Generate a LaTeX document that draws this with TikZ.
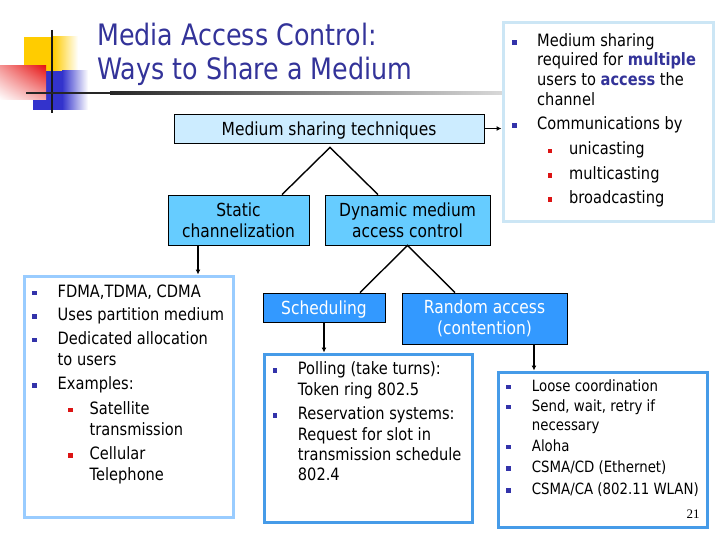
\documentclass[tikz,border=0pt]{standalone}
\usepackage{fontspec}
\setmainfont[FakeStretch=0.86]{DejaVu Sans}
\newfontfamily\numfont{Liberation Serif}
\usetikzlibrary{arrows.meta,calc,shadings}
\definecolor{titleblue}{RGB}{51,51,153}
\definecolor{yellowc}{RGB}{255,204,0}
\definecolor{bluec}{RGB}{51,51,204}
\definecolor{redc}{RGB}{230,20,20}
\definecolor{palefill}{RGB}{204,236,255}
\definecolor{midfill}{RGB}{102,204,255}
\definecolor{darkfill}{RGB}{51,153,255}
\definecolor{lightedge}{RGB}{153,204,255}
\definecolor{paleedge}{RGB}{204,230,245}
\definecolor{listedge}{RGB}{70,155,232}
\definecolor{bulblue}{RGB}{51,51,170}
\definecolor{bulred}{RGB}{220,20,20}
\tikzset{
  titletxt/.style={anchor=base west, inner sep=0pt, text=titleblue, font=\fontsize{29.5}{35}\selectfont},
  txt/.style={anchor=base west, inner sep=0pt, font=\fontsize{17}{20}\selectfont},
  smalltxt/.style={anchor=base west, inner sep=0pt, font=\fontsize{15.5}{18}\selectfont},
  bulb/.style={fill=#1, inner sep=0pt, minimum size=4.6pt, draw=none},
  catbox/.style={draw=black, line width=0.8pt, inner sep=0pt, align=center, font=\fontsize{18}{20.6}\selectfont},
  listbox/.style={draw=#1, line width=3pt, fill=white, inner sep=0pt},
  conn/.style={line width=1.4pt},
  arr/.style={line width=1.4pt, -{Latex[length=5pt,width=5pt]}},
}
\newcommand\myln[4]{\node[txt] (#1) at (#2,#3) {#4};}
\newcommand\mysm[4]{\node[smalltxt] (#1) at (#2,#3) {#4};}
\newcommand\mybul[4]{\node[bulb=#4] (#1) at (#2,#3) {};}
\begin{document}
\begin{tikzpicture}[x=1pt,y=-1pt]
\useasboundingbox (0,0) rectangle (720,540);
\fill[white] (0,0) rectangle (720,540);
% decoration
\fill[yellowc] (24,37) rectangle (53,80);
\shade[left color=yellowc, right color=white] (53,37) rectangle (78,80);
\fill[bluec] (33,71) rectangle (62,110);
\shade[left color=bluec, right color=white] (62,71) rectangle (88,110);
\shade[upper left=redc!45!white, upper right=redc, lower left=white, lower right=redc!35!white] (0,66) rectangle (46,100);
\draw[line width=2.2pt, black!90] (52,30) -- (52,113);
\fill[black!85] (26,91.8) rectangle (110,94.4);
\shade[left color=black!85, right color=black!15] (110,91.8) rectangle (503,94.4);
% title
\node[titletxt] (t1) at (97,45.7) {Media Access Control:};
\node[titletxt] (t2) at (97,80) {Ways to Share a Medium};
% boxes
\node[catbox, fill=palefill, minimum width=310pt, minimum height=29pt, text height=14pt, text depth=0pt] (mst) at (329,128.5) {Medium sharing techniques};
\node[catbox, fill=midfill, minimum width=141pt, minimum height=50pt] (st) at (238.5,220) {Static\\channelization};
\node[catbox, fill=midfill, minimum width=165pt, minimum height=50pt] (dyn) at (407.5,220) {Dynamic medium\\access control};
\node[catbox, fill=darkfill, text=white, minimum width=122pt, minimum height=29pt, text height=14pt, text depth=0pt] (sch) at (324,307.5) {Scheduling};
\node[catbox, fill=darkfill, text=white, minimum width=165pt, minimum height=51pt] (rnd) at (484.5,318.5) {Random access\\(contention)};
% list boxes
\node[listbox=paleedge, minimum width=210pt, minimum height=199pt] (info) at (608,122.5) {};
\node[listbox=lightedge, minimum width=209pt, minimum height=241pt] (sl) at (128.5,396.5) {};
\node[listbox=listedge, minimum width=208pt, minimum height=168pt] (schl) at (368,438) {};
\node[listbox=listedge, minimum width=209pt, minimum height=155pt] (rl) at (602.5,449.5) {};
% connectors
\coordinate (apx) at ($(mst.south)+(1,4)$);
\draw[conn] ($(st.north)+(43.5,0)$) -- (apx) -- ($(dyn.north)+(-29.5,0)$);
\draw[conn] ($(sch.north)+(36,0)$) -- (dyn.south) -- ($(rnd.north)+(-29.5,0)$);
\coordinate (sa) at ($(st.south)+(-40.5,0)$);
\draw[arr] (sa) -- (sa |- sl.north);
\draw[arr] (sch.south) -- (sch.south |- schl.north);
\coordinate (ra) at ($(rnd.south)+(49.5,0)$);
\draw[arr] (ra) -- (ra |- rl.north);
\draw[arr] (mst.east) -- (mst.east -| info.west);
% info box text
\mybul{ib1}{514.5}{42.5}{bulblue}
\myln{i1}{537}{46.5}{Medium sharing}
\myln{i2}{537}{66}{required for \textbf{\color{titleblue}multiple}}
\myln{i3}{537}{86}{users to \textbf{\color{titleblue}access} the}
\myln{i4}{537}{106}{channel}
\mybul{ib2}{514.5}{125.5}{bulblue}
\myln{i5}{537}{129.5}{Communications by}
\mybul{ib3}{550}{151}{bulred}
\myln{i6}{569}{155}{unicasting}
\mybul{ib4}{550}{175.5}{bulred}
\myln{i7}{569}{179.5}{multicasting}
\mybul{ib5}{550}{199.5}{bulred}
\myln{i8}{569}{203.5}{broadcasting}
% static list
\mybul{sb1}{34.7}{293}{bulblue}
\myln{s1}{57.5}{297}{FDMA,TDMA, CDMA}
\mybul{sb2}{34.7}{316.7}{bulblue}
\myln{s2}{57.5}{320.7}{Uses partition medium}
\mybul{sb3}{34.7}{340}{bulblue}
\myln{s3}{57.5}{344}{Dedicated allocation}
\myln{s4}{57.5}{365}{to users}
\mybul{sb4}{34.7}{385.3}{bulblue}
\myln{s5}{57.5}{389.3}{Examples:}
\mybul{sb5}{70.3}{410}{bulred}
\myln{s6}{89.5}{414}{Satellite}
\myln{s7}{89.5}{435}{transmission}
\mybul{sb6}{70.3}{455.3}{bulred}
\myln{s8}{89.5}{459.3}{Cellular}
\myln{s9}{89.5}{480}{Telephone}
% scheduling list
\mybul{cb1}{275}{370.3}{bulblue}
\myln{c1}{297.7}{374.3}{Polling (take turns):}
\myln{c2}{297.7}{395}{Token ring 802.5}
\mybul{cb2}{275}{415.3}{bulblue}
\myln{c3}{297.7}{419.3}{Reservation systems:}
\myln{c4}{297.7}{440}{Request for slot in}
\myln{c5}{297.7}{460}{transmission schedule}
\myln{c6}{297.7}{480}{802.4}
% random list
\mybul{rb1}{508.7}{387}{bulblue}
\mysm{r1}{531.7}{391}{Loose coordination}
\mybul{rb2}{508.7}{407}{bulblue}
\mysm{r2}{531.7}{411}{Send, wait, retry if}
\mysm{r3}{531.7}{430}{necessary}
\mybul{rb3}{508.7}{447}{bulblue}
\mysm{r4}{531.7}{451}{Aloha}
\mybul{rb4}{508.7}{468.7}{bulblue}
\mysm{r5}{531.7}{472.7}{CSMA/CD (Ethernet)}
\mybul{rb5}{508.7}{490.3}{bulblue}
\mysm{r6}{531.7}{494.3}{CSMA/CA (802.11 WLAN)}
\node[anchor=base west, inner sep=0pt, font=\numfont\fontsize{13}{15}\selectfont] (pg) at (686.5,518) {21};
\end{tikzpicture}
\end{document}
